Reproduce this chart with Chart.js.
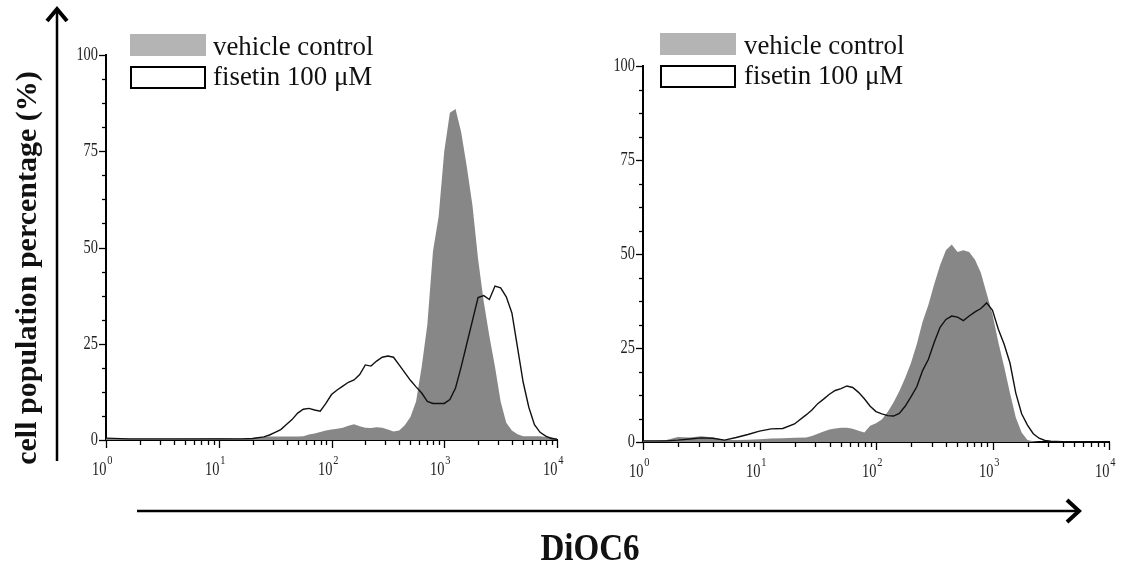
<!DOCTYPE html>
<html>
<head>
<meta charset="utf-8">
<script src="https://cdn.jsdelivr.net/npm/chart.js@4/dist/chart.umd.min.js"></script>
<style>
  html, body { margin: 0; padding: 0; background: #fff; }
  body { width: 1122px; height: 567px; position: relative; overflow: hidden; font-family: "Liberation Serif", "Times New Roman", serif; }
  canvas { position: absolute; }
  .swatch { position: absolute; width: 76px; height: 22px; box-sizing: border-box; }
  .legtext { position: absolute; font-size: 28px; line-height: 28px; white-space: nowrap; color: #111; transform: scaleX(0.96); transform-origin: left top; }
  #ytitle { position: absolute; left: 26px; top: 268px; transform: translate(-50%, -50%) rotate(-90deg); font-weight: bold; font-size: 30px; white-space: nowrap; color: #111; }
  #xtitle { position: absolute; left: 590px; top: 528px; transform: translateX(-50%) scaleX(0.87); font-weight: bold; font-size: 38px; line-height: 38px; white-space: nowrap; color: #111; }
  svg { position: absolute; left: 0; top: 0; }
</style>
</head>
<body>
<canvas id="leftChart" width="540" height="450" style="left:30px; top:30px;"></canvas>
<canvas id="rightChart" width="555" height="441" style="left:567px; top:41px;"></canvas>
<svg width="1122" height="567">
  <line x1="57" y1="461" x2="57" y2="11" stroke="#000" stroke-width="2.5"/>
  <polyline points="47,21 57,9 67,21" fill="none" stroke="#000" stroke-width="4"/>
  <line x1="137" y1="511" x2="1078" y2="511" stroke="#000" stroke-width="2.5"/>
  <polyline points="1067,500 1079,511 1067,522" fill="none" stroke="#000" stroke-width="4"/>
</svg>
<div id="ytitle">cell population percentage (%)</div>
<div id="xtitle">DiOC6</div>
<div id="legends"></div>

<script>
// series names
const seriesNames = ['vehicle control', 'fisetin 100 \u03bcM'];

// axis ticks (x is log10 of DiOC6 fluorescence)
const xDecades = [0, 1, 2, 3, 4];
const yMajorTicks = [0, 25, 50, 75, 100];

// left panel
const leftLogX = [0, 0.2, 0.4, 0.6, 0.8, 1.0, 1.2, 1.3,
  1.4, 1.45, 1.5, 1.55, 1.6, 1.65, 1.7, 1.75, 1.8, 1.85,
  1.9, 1.95, 2.0, 2.05, 2.1, 2.15, 2.2, 2.25, 2.3, 2.35,
  2.4, 2.45, 2.5, 2.55, 2.6, 2.65, 2.7, 2.75, 2.8, 2.85,
  2.9, 2.95, 3.0, 3.05, 3.1, 3.15, 3.2, 3.25, 3.3, 3.35,
  3.4, 3.45, 3.5, 3.55, 3.6, 3.65, 3.7, 3.75, 3.8, 3.85,
  3.9, 3.95, 4.0];
const leftVehicle = [0.5, 0.3, 0.3, 0.3, 0.4, 0.5, 0.3, 0.5,
  0.8, 0.9, 0.9, 0.9, 0.9, 0.9, 0.9, 1.0, 1.4, 1.7,
  2.1, 2.5, 2.7, 2.9, 3.2, 3.7, 4.1, 3.6, 3.2, 3.1,
  3.3, 3.2, 2.7, 2.2, 2.5, 3.8, 6, 10, 19, 30,
  49, 58, 75, 85, 86, 80, 71, 61, 47, 36,
  27, 19, 10, 4.5, 2.5, 1.5, 1.0, 1.0, 1.0, 1.0,
  0.8, 0.8, 0.3];
const leftFisetin = [0.5, 0.3, 0.3, 0.3, 0.3, 0.3, 0.3, 0.4,
  0.8, 1.3, 2.0, 2.7, 4.0, 5.3, 7.0, 8.0, 8.2, 7.8,
  7.5, 9.5, 11.8, 13.0, 14.0, 15.0, 15.6, 17.0, 19.5, 19.2,
  20.5, 21.5, 21.8, 21.5, 19.5, 17.5, 15.5, 13.8, 12.2, 10.0,
  9.5, 9.5, 9.5, 10.5, 13.5, 19, 25, 31, 37, 37.5,
  36.5, 40, 39.5, 37.2, 33, 24, 15, 8.5, 4, 2,
  1, 0.4, 0.2];

// right panel
const rightLogX = [0, 0.1, 0.2, 0.3, 0.4, 0.5, 0.6, 0.7, 0.8, 0.9, 1.0, 1.1, 1.2, 1.3, 1.4,
  1.45, 1.5, 1.55, 1.6, 1.65, 1.7, 1.75, 1.8, 1.85, 1.9,
  1.95, 2.0, 2.05, 2.1, 2.15, 2.2, 2.25, 2.3, 2.35, 2.4,
  2.45, 2.5, 2.55, 2.6, 2.65, 2.7, 2.75, 2.8, 2.85, 2.9,
  2.95, 3.0, 3.05, 3.1, 3.15, 3.2, 3.25, 3.3, 3.35, 3.4,
  3.45, 3.5, 3.6, 3.8, 4.0];
const rightVehicle = [0.3, 0.3, 0.5, 1.3, 1.2, 1.5, 1.2, 0.5, 0.5, 0.6, 0.7, 0.9, 1.0, 1.1, 1.2,
  1.6, 2.2, 2.8, 3.3, 3.6, 3.8, 3.8, 3.5, 3.0, 2.5,
  4.3, 5, 6, 8, 10.5, 13.5, 17, 21, 26, 32,
  36.5, 42, 47, 51, 52.5, 50.5, 51, 50.5, 48.5, 45,
  39.5, 34, 26.5, 20, 13, 6.5, 2.5, 0.5, 0.2, 0,
  0, 0, 0, 0, 0];
const rightFisetin = [0.3, 0.3, 0.3, 0.5, 0.8, 1.1, 1.0, 0.5, 1.2, 2.0, 2.9, 3.5, 3.6, 4.8, 7.2,
  8.5, 10.2, 11.4, 12.7, 13.7, 14.2, 14.9, 14.5, 13.2, 11.5,
  9.5, 8.1, 7.5, 7.0, 6.9, 7.6, 9.5, 12, 14.7, 19,
  22, 26.5, 30.5, 32.6, 33.5, 33.2, 32.3, 33.5, 34.6, 35.5,
  37, 35, 30, 26, 21, 13, 7.5, 4.5, 2.2, 1.0,
  0.4, 0.2, 0.1, 0, 0];

const fillGray = '#878787';
const legendGray = '#b4b4b4';

// draws the tick marks + labels (labels are condensed serif, x labels get superscripts)
const flowTicks = {
    id: 'flowTicks',
    afterDraw(chart) {
        const ctx = chart.ctx;
        const xs = chart.scales.x, ys = chart.scales.y;
        const area = chart.chartArea;
        ctx.save();
        ctx.strokeStyle = '#000';
        ctx.fillStyle = '#222';
        ctx.lineWidth = 1.3;

        // y ticks every 6.25, labels on the 25s
        ys.ticks.forEach(t => {
            const py = Math.round(ys.getPixelForValue(t.value)) + 0.5;
            const major = yMajorTicks.includes(t.value);
            ctx.beginPath();
            ctx.moveTo(area.left, py);
            ctx.lineTo(area.left - (major ? 7 : 4), py);
            ctx.stroke();
            if (major) {
                ctx.save();
                ctx.translate(area.left - 8, py);
                ctx.scale(0.8, 1);
                ctx.font = '18px "Liberation Serif", serif';
                ctx.textAlign = 'right';
                ctx.textBaseline = 'middle';
                ctx.fillText(String(t.value), 0, 0);
                ctx.restore();
            }
        });

        // x ticks: decades + log minor ticks
        xDecades.forEach(k => {
            const px = Math.round(xs.getPixelForValue(k)) + 0.5;
            ctx.beginPath();
            ctx.moveTo(px, area.bottom);
            ctx.lineTo(px, area.bottom + 8);
            ctx.stroke();
            if (k < 4) {
                for (let m = 2; m <= 9; m++) {
                    const mx = Math.round(xs.getPixelForValue(k + Math.log10(m))) + 0.5;
                    ctx.beginPath();
                    ctx.moveTo(mx, area.bottom);
                    ctx.lineTo(mx, area.bottom + 5);
                    ctx.stroke();
                }
            }
            ctx.save();
            ctx.translate(px, area.bottom + 35);
            ctx.scale(0.8, 1);
            ctx.font = '18px "Liberation Serif", serif';
            ctx.textAlign = 'right';
            ctx.textBaseline = 'alphabetic';
            ctx.fillText('10', 0, 0);
            ctx.font = '13px "Liberation Serif", serif';
            ctx.textAlign = 'left';
            ctx.fillText(String(k), 1, -11);
            ctx.restore();
        });
        ctx.restore();
    }
};

function makePanel(canvasId, logX, vehicle, fisetin) {
    return new Chart(document.getElementById(canvasId), {
        type: 'line',
        data: {
            datasets: [
                {
                    label: seriesNames[0],
                    data: logX.map((x, i) => ({ x: x, y: vehicle[i] })),
                    borderWidth: 0,
                    borderColor: fillGray,
                    backgroundColor: fillGray,
                    fill: 'origin',
                    pointRadius: 0,
                    tension: 0,
                    order: 2
                },
                {
                    label: seriesNames[1],
                    data: logX.map((x, i) => ({ x: x, y: fisetin[i] })),
                    borderWidth: 1.4,
                    borderColor: '#111',
                    fill: false,
                    pointRadius: 0,
                    tension: 0,
                    order: 1
                }
            ]
        },
        options: {
            responsive: false,
            animation: false,
            layout: { padding: { left: 10, right: 13, top: 25, bottom: 0 } },
            plugins: { legend: { display: false }, tooltip: { enabled: false } },
            scales: {
                x: {
                    type: 'linear', min: 0, max: 4,
                    ticks: { display: false, stepSize: 1 },
                    grid: { display: false },
                    border: { display: true, color: '#000', width: 2 },
                    afterFit: s => { s.height = 40; }
                },
                y: {
                    min: 0, max: 100,
                    ticks: { display: false, stepSize: 6.25 },
                    grid: { display: false },
                    border: { display: true, color: '#000', width: 2 },
                    afterFit: s => { s.width = 66; }
                }
            }
        },
        plugins: [flowTicks]
    });
}

makePanel('leftChart', leftLogX, leftVehicle, leftFisetin);
makePanel('rightChart', rightLogX, rightVehicle, rightFisetin);

// legends (HTML, one per panel)
const legendSpots = [
    { box: 130, top: 34, text: 213 },
    { box: 660, top: 33, text: 744 }
];
const legends = document.getElementById('legends');
legendSpots.forEach(spot => {
    const g = document.createElement('div');
    g.className = 'swatch';
    g.style.left = spot.box + 'px';
    g.style.top = spot.top + 'px';
    g.style.background = legendGray;
    legends.appendChild(g);

    const b = document.createElement('div');
    b.className = 'swatch';
    b.style.left = spot.box + 'px';
    b.style.top = (spot.top + 32) + 'px';
    b.style.height = '23px';
    b.style.border = '2.5px solid #000';
    legends.appendChild(b);

    seriesNames.forEach((name, i) => {
        const t = document.createElement('div');
        t.className = 'legtext';
        t.style.left = spot.text + 'px';
        t.style.top = (spot.top - 2 + i * 30) + 'px';
        t.textContent = name;
        legends.appendChild(t);
    });
});
</script>
</body>
</html>
